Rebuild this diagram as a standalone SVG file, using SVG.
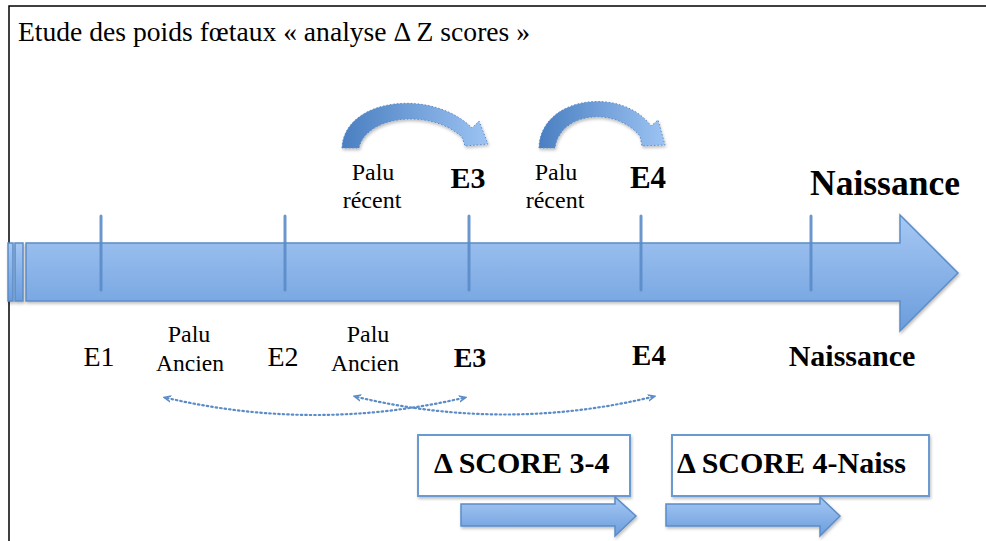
<svg xmlns="http://www.w3.org/2000/svg" width="986" height="541" viewBox="0 0 986 541">
<defs>
<linearGradient id="gBlue" x1="0" y1="0" x2="0" y2="1">
<stop offset="0" stop-color="#a6c8f4"/>
<stop offset="1" stop-color="#6b9ddc"/>
</linearGradient>
<linearGradient id="gArc" x1="0" y1="0" x2="1" y2="0">
<stop offset="0" stop-color="#4a7fc1"/>
<stop offset="1" stop-color="#9cc3f3"/>
</linearGradient>
<marker id="mDot" markerWidth="8" markerHeight="8" refX="4" refY="4" orient="auto-start-reverse" markerUnits="userSpaceOnUse">
<path d="M0,1 L7,4 L0,7" fill="none" stroke="#5b8cc8" stroke-width="1.5"/>
</marker>
<filter id="sh" x="-10%" y="-10%" width="130%" height="140%">
<feDropShadow dx="1" dy="2" stdDeviation="1.5" flood-color="#000" flood-opacity="0.25"/>
</filter>
</defs>
<style>
.tick{stroke:#5b8cc8;stroke-width:3;stroke-linecap:round;opacity:0.9}
.blue{fill:url(#gBlue);stroke:#5b8cc8;stroke-width:1.5}
.box{fill:#fff;stroke:#6a9ad2;stroke-width:2}
.dot{fill:none;stroke:#5b8cc8;stroke-width:2.2;stroke-dasharray:1.5 3;stroke-linecap:round}
</style>
<rect x="0" y="0" width="986" height="541" fill="#fff"/>
<rect x="9" y="6" width="990" height="550" fill="#fff" stroke="#000" stroke-width="1.5"/>
<g id="title">
<text font-family="Liberation Serif" x="18" y="41" font-size="27.6">Etude des poids fœtaux « analyse Δ Z scores »</text>
</g>

<g id="timeline" filter="url(#sh)">
<rect class="blue" x="8" y="243" width="5" height="58"/>
<rect class="blue" x="15" y="243" width="8" height="58"/>
<path class="blue" d="M26,243 H900 V215 L958,273 L900,331 V301 H26 Z"/>
</g>
<g id="ticks">
<line class="tick" x1="101" y1="216" x2="101" y2="290"/>
<line class="tick" x1="285" y1="216" x2="285" y2="290"/>
<line class="tick" x1="469" y1="216" x2="469" y2="290"/>
<line class="tick" x1="641" y1="216" x2="641" y2="290"/>
<line class="tick" x1="811" y1="216" x2="811" y2="290"/>
</g>

<g id="top-labels">
<text font-family="Liberation Serif" text-anchor="middle" x="373" y="180" font-size="24">Palu</text>
<text font-family="Liberation Serif" text-anchor="middle" x="372" y="208" font-size="24">récent</text>
<text font-family="Liberation Serif" text-anchor="middle" font-weight="bold" x="468" y="188" font-size="30">E3</text>
<text font-family="Liberation Serif" text-anchor="middle" x="556" y="180" font-size="24">Palu</text>
<text font-family="Liberation Serif" text-anchor="middle" x="555" y="208" font-size="24">récent</text>
<text font-family="Liberation Serif" text-anchor="middle" font-weight="bold" x="648" y="188" font-size="31">E4</text>
<text font-family="Liberation Serif" text-anchor="middle" font-weight="bold" x="885" y="195" font-size="35.5">Naissance</text>
</g>

<g id="bottom-labels">
<text font-family="Liberation Serif" text-anchor="middle" x="99" y="366" font-size="28">E1</text>
<text font-family="Liberation Serif" text-anchor="middle" x="189" y="342" font-size="24">Palu</text>
<text font-family="Liberation Serif" text-anchor="middle" x="190" y="371" font-size="23.5">Ancien</text>
<text font-family="Liberation Serif" text-anchor="middle" x="283" y="366" font-size="28">E2</text>
<text font-family="Liberation Serif" text-anchor="middle" x="368" y="342" font-size="24">Palu</text>
<text font-family="Liberation Serif" text-anchor="middle" x="365" y="371" font-size="23.5">Ancien</text>
<text font-family="Liberation Serif" text-anchor="middle" font-weight="bold" x="470" y="367" font-size="28">E3</text>
<text font-family="Liberation Serif" text-anchor="middle" font-weight="bold" x="649" y="365" font-size="29">E4</text>
<text font-family="Liberation Serif" text-anchor="middle" font-weight="bold" x="852" y="366" font-size="30">Naissance</text>
</g>

<g id="curved-arrows" filter="url(#sh)">
<path d="M342,148 C344,98 432,88 472,128 L479,121 L488,144 L465,146 L462,137 C430,108 366,116 359,148 Z" fill="url(#gArc)" stroke="#5b8cc8" stroke-width="1" stroke-dasharray="1.5 2"/>
<path d="M539,148 C540,96 622,86 651,126 L658,120 L665,145 L642,146 L640,136 C615,106 560,112 555,148 Z" fill="url(#gArc)" stroke="#5b8cc8" stroke-width="1" stroke-dasharray="1.5 2"/>
</g>

<g id="connectors">
<path class="dot" d="M167,398 Q315,432 463,398" marker-start="url(#mDot)" marker-end="url(#mDot)"/>
<path class="dot" d="M357,397 Q505,432 652,397" marker-start="url(#mDot)" marker-end="url(#mDot)"/>
</g>

<g id="score-3-4">
<rect class="box" x="418" y="435" width="212" height="61" filter="url(#sh)"/>
<text font-family="Liberation Serif" font-weight="bold" x="434" y="473" font-size="30">Δ SCORE 3-4</text>
<path class="blue" filter="url(#sh)" d="M461,504 H615 V497 L636,516 L615,536 V526 H461 Z"/>
</g>
<g id="score-4-naiss">
<rect class="box" x="672" y="435" width="257" height="61" filter="url(#sh)"/>
<text font-family="Liberation Serif" font-weight="bold" x="677" y="473" font-size="30">Δ SCORE 4-Naiss</text>
<path class="blue" filter="url(#sh)" d="M666,504 H820 V497 L840,516 L820,536 V526 H666 Z"/>
</g>
</svg>
